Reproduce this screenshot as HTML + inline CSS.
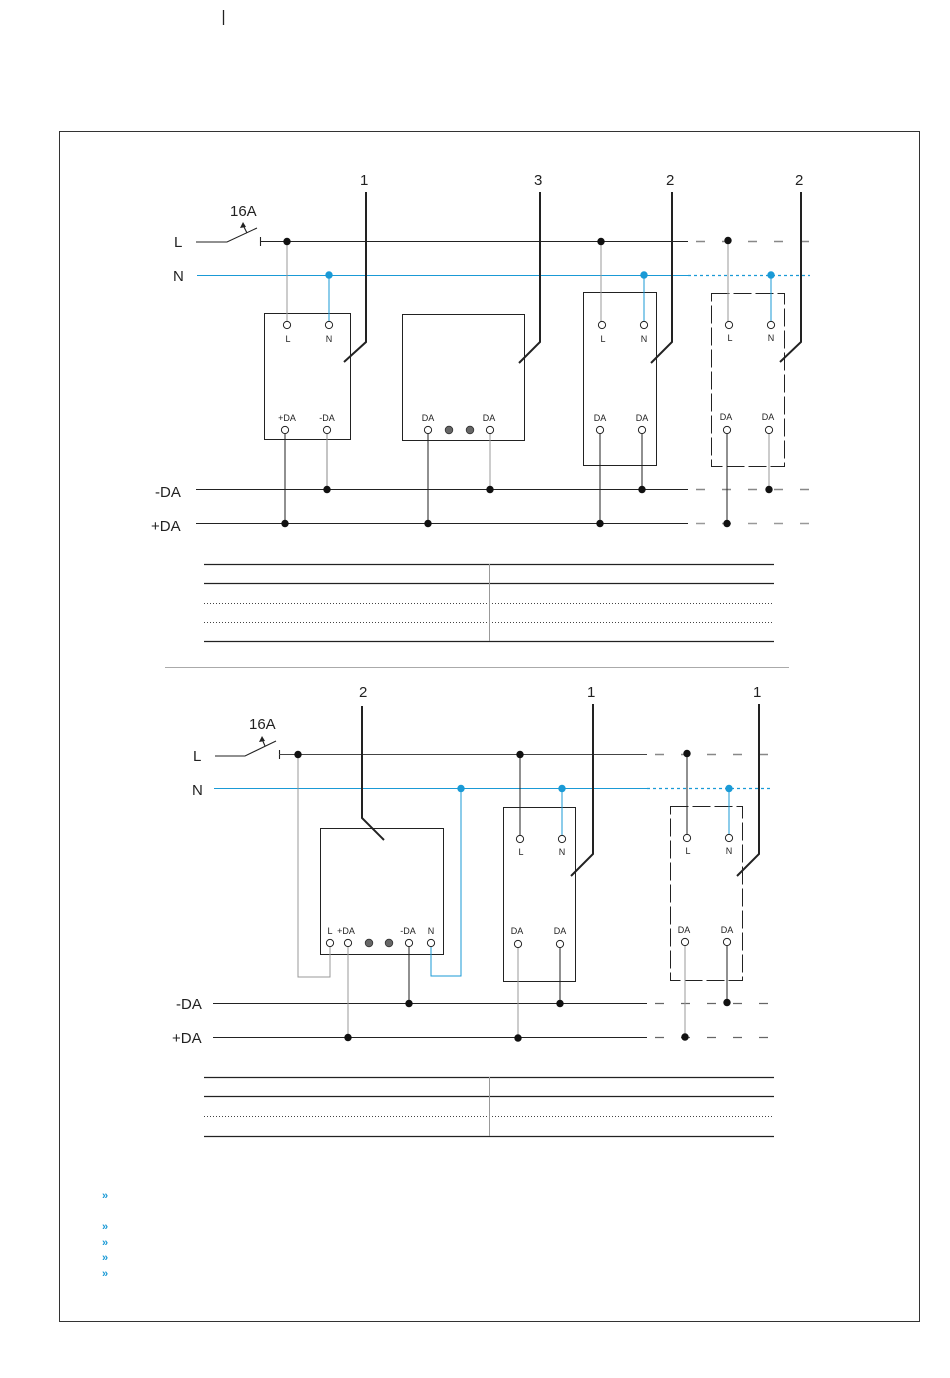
<!DOCTYPE html>
<html><head><meta charset="utf-8"><style>
html,body{margin:0;padding:0;background:#fff;}
svg{display:block;}
text{font-family:"Liberation Sans",sans-serif;fill:#222;}
</style></head><body>
<svg width="950" height="1378" viewBox="0 0 950 1378" xmlns="http://www.w3.org/2000/svg">
<line x1="223.5" y1="10" x2="223.5" y2="25" stroke="#222" stroke-width="1.3"/>
<rect x="59.5" y="131.5" width="860" height="1190" fill="none" stroke="#333" stroke-width="1"/>

<!-- ===== TOP DIAGRAM ===== -->
<g font-size="15">
<text x="174" y="247">L</text>
<text x="173" y="281">N</text>
<text x="155" y="497">-DA</text>
<text x="151" y="531">+DA</text>
<text x="230" y="216">16A</text>
<text x="360" y="185">1</text>
<text x="534" y="185">3</text>
<text x="666" y="185">2</text>
<text x="795" y="185">2</text>
</g>
<g stroke="#222" stroke-width="1.1" fill="none">
<polyline points="196,242 227,242 257,228"/>
<line x1="247" y1="233" x2="243" y2="225"/>
<line x1="260.5" y1="237" x2="260.5" y2="246"/>
<line x1="260" y1="241.5" x2="688" y2="241.5"/>
<line x1="696" y1="241.5" x2="810" y2="241.5" stroke="#888" stroke-width="1.4" stroke-dasharray="9 17"/>
<line x1="196" y1="489.5" x2="688" y2="489.5"/>
<line x1="696" y1="489.5" x2="810" y2="489.5" stroke="#888" stroke-width="1.4" stroke-dasharray="9 17"/>
<line x1="196" y1="523.5" x2="688" y2="523.5"/>
<line x1="696" y1="523.5" x2="810" y2="523.5" stroke="#999" stroke-width="1.4" stroke-dasharray="9 17"/>
</g>
<polygon points="243,222 240,228 246,227" fill="#222"/>
<line x1="197" y1="275.5" x2="688" y2="275.5" stroke="#1a9ad6" stroke-width="1.1"/>
<line x1="688" y1="275.5" x2="810" y2="275.5" stroke="#1a9ad6" stroke-width="1.2" stroke-dasharray="3 3"/>

<g fill="none" stroke="#222" stroke-width="1">
<rect x="264.5" y="313.5" width="86" height="126"/>
<rect x="402.5" y="314.5" width="122" height="126"/>
<rect x="583.5" y="292.5" width="73" height="173"/>
<rect x="711.5" y="293.5" width="73" height="173" stroke-dasharray="18 4"/>
</g>
<g fill="none" stroke="#222" stroke-width="2">
<polyline points="366,192 366,342 344,362"/>
<polyline points="540,192 540,342 519,363"/>
<polyline points="672,192 672,342 651,363"/>
<polyline points="801,192 801,342 780,362"/>
</g>
<g fill="none" stroke-width="1">
<line x1="287" y1="241" x2="287" y2="325" stroke="#999"/>
<line x1="329" y1="275" x2="329" y2="325" stroke="#1a9ad6"/>
<line x1="285" y1="430" x2="285" y2="523" stroke="#222"/>
<line x1="327" y1="430" x2="327" y2="489" stroke="#888"/>
<line x1="428" y1="430" x2="428" y2="523" stroke="#222"/>
<line x1="490" y1="430" x2="490" y2="489" stroke="#999"/>
<line x1="601" y1="241" x2="601" y2="325" stroke="#999"/>
<line x1="644" y1="275" x2="644" y2="325" stroke="#1a9ad6"/>
<line x1="600" y1="430" x2="600" y2="523" stroke="#222"/>
<line x1="642" y1="430" x2="642" y2="489" stroke="#222"/>
<line x1="728" y1="241" x2="728" y2="325" stroke="#999"/>
<line x1="771" y1="275" x2="771" y2="325" stroke="#1a9ad6"/>
<line x1="727" y1="430" x2="727" y2="523" stroke="#222"/>
<line x1="769" y1="430" x2="769" y2="489" stroke="#999"/>
</g>
<g fill="#111">
<circle cx="287" cy="241.5" r="3.7"/><circle cx="601" cy="241.5" r="3.7"/><circle cx="728" cy="240.5" r="3.7"/>
<circle cx="327" cy="489.5" r="3.7"/><circle cx="490" cy="489.5" r="3.7"/><circle cx="642" cy="489.5" r="3.7"/><circle cx="769" cy="489.5" r="3.7"/>
<circle cx="285" cy="523.5" r="3.7"/><circle cx="428" cy="523.5" r="3.7"/><circle cx="600" cy="523.5" r="3.7"/><circle cx="727" cy="523.5" r="3.7"/>
</g>
<g fill="#1a9ad6">
<circle cx="329" cy="275" r="3.7"/><circle cx="644" cy="275" r="3.7"/><circle cx="771" cy="275" r="3.7"/>
</g>
<g fill="#fff" stroke="#222" stroke-width="1">
<circle cx="287" cy="325" r="3.6"/><circle cx="329" cy="325" r="3.6"/>
<circle cx="285" cy="430" r="3.6"/><circle cx="327" cy="430" r="3.6"/>
<circle cx="428" cy="430" r="3.6"/><circle cx="490" cy="430" r="3.6"/>
<circle cx="602" cy="325" r="3.6"/><circle cx="644" cy="325" r="3.6"/>
<circle cx="600" cy="430" r="3.6"/><circle cx="642" cy="430" r="3.6"/>
<circle cx="729" cy="325" r="3.6"/><circle cx="771" cy="325" r="3.6"/>
<circle cx="727" cy="430" r="3.6"/><circle cx="769" cy="430" r="3.6"/>
</g>
<g fill="#666" stroke="#333" stroke-width="0.8"><circle cx="449" cy="430" r="3.8"/><circle cx="470" cy="430" r="3.8"/></g>
<g font-size="9" text-anchor="middle">
<text x="288" y="342">L</text><text x="329" y="342">N</text>
<text x="287" y="421">+DA</text><text x="327" y="421">-DA</text>
<text x="428" y="421">DA</text><text x="489" y="421">DA</text>
<text x="603" y="342">L</text><text x="644" y="342">N</text>
<text x="600" y="421">DA</text><text x="642" y="421">DA</text>
<text x="730" y="341">L</text><text x="771" y="341">N</text>
<text x="726" y="420">DA</text><text x="768" y="420">DA</text>
</g>

<g stroke="#222" stroke-width="1.2">
<line x1="204" y1="564.5" x2="774" y2="564.5"/>
<line x1="204" y1="583.5" x2="774" y2="583.5"/>
<line x1="204" y1="641.5" x2="774" y2="641.5"/>
</g>
<g stroke="#444" stroke-width="1" stroke-dasharray="1 2">
<line x1="204" y1="603.5" x2="774" y2="603.5"/>
<line x1="204" y1="622.5" x2="774" y2="622.5"/>
</g>
<line x1="489.5" y1="564" x2="489.5" y2="641" stroke="#999" stroke-width="1"/>
<line x1="165" y1="667.5" x2="789" y2="667.5" stroke="#aaa" stroke-width="1"/>

<!-- ===== BOTTOM DIAGRAM ===== -->
<g font-size="15">
<text x="193" y="761">L</text>
<text x="192" y="795">N</text>
<text x="176" y="1009">-DA</text>
<text x="172" y="1043">+DA</text>
<text x="249" y="729">16A</text>
<text x="359" y="697">2</text>
<text x="587" y="697">1</text>
<text x="753" y="697">1</text>
</g>
<g stroke="#222" stroke-width="1.1" fill="none">
<polyline points="215,756 245,756 276,741"/>
<line x1="265" y1="746" x2="262" y2="739"/>
<line x1="279.5" y1="750" x2="279.5" y2="759"/>
<line x1="279" y1="754.5" x2="647" y2="754.5" stroke="#444"/>
<line x1="655" y1="754.5" x2="770" y2="754.5" stroke="#888" stroke-width="1.4" stroke-dasharray="9 17"/>
<line x1="213" y1="1003.5" x2="647" y2="1003.5"/>
<line x1="655" y1="1003.5" x2="770" y2="1003.5" stroke="#666" stroke-width="1.3" stroke-dasharray="9 17"/>
<line x1="213" y1="1037.5" x2="647" y2="1037.5"/>
<line x1="655" y1="1037.5" x2="770" y2="1037.5" stroke="#666" stroke-width="1.3" stroke-dasharray="9 17"/>
</g>
<polygon points="262,736 259,742 265,741" fill="#222"/>
<line x1="214" y1="788.5" x2="647" y2="788.5" stroke="#1a9ad6" stroke-width="1.1"/>
<line x1="647" y1="788.5" x2="770" y2="788.5" stroke="#1a9ad6" stroke-width="1.2" stroke-dasharray="3 3"/>

<g fill="none" stroke="#222" stroke-width="1">
<rect x="320.5" y="828.5" width="123" height="126"/>
<rect x="503.5" y="807.5" width="72" height="174"/>
<rect x="670.5" y="806.5" width="72" height="174" stroke-dasharray="18 4"/>
</g>
<g fill="none" stroke="#222" stroke-width="2">
<polyline points="362,706 362,818 384,840"/>
<polyline points="593,704 593,854 571,876"/>
<polyline points="759,704 759,854 737,876"/>
</g>
<g fill="none" stroke-width="1">
<polyline points="298,754 298,977 330,977 330,943" stroke="#999"/>
<polyline points="431,943 431,976 461,976 461,788" stroke="#1a9ad6"/>
<line x1="348" y1="943" x2="348" y2="1037" stroke="#999"/>
<line x1="409" y1="943" x2="409" y2="1003" stroke="#222"/>
<line x1="520" y1="754" x2="520" y2="839" stroke="#222"/>
<line x1="562" y1="788" x2="562" y2="839" stroke="#1a9ad6"/>
<line x1="518" y1="943" x2="518" y2="1037" stroke="#999"/>
<line x1="560" y1="943" x2="560" y2="1003" stroke="#222"/>
<line x1="687" y1="754" x2="687" y2="838" stroke="#222"/>
<line x1="729" y1="788" x2="729" y2="838" stroke="#1a9ad6"/>
<line x1="685" y1="942" x2="685" y2="1037" stroke="#999"/>
<line x1="727" y1="942" x2="727" y2="1003" stroke="#222"/>
</g>
<g fill="#111">
<circle cx="298" cy="754.5" r="3.7"/><circle cx="520" cy="754.5" r="3.7"/><circle cx="687" cy="753.5" r="3.7"/>
<circle cx="409" cy="1003.5" r="3.7"/><circle cx="560" cy="1003.5" r="3.7"/><circle cx="727" cy="1002.5" r="3.7"/>
<circle cx="348" cy="1037.5" r="3.7"/><circle cx="518" cy="1038" r="3.7"/><circle cx="685" cy="1037" r="3.7"/>
</g>
<g fill="#1a9ad6">
<circle cx="461" cy="788.5" r="3.7"/><circle cx="562" cy="788.5" r="3.7"/><circle cx="729" cy="788.5" r="3.7"/>
</g>
<g fill="#fff" stroke="#222" stroke-width="1">
<circle cx="330" cy="943" r="3.6"/><circle cx="348" cy="943" r="3.6"/>
<circle cx="409" cy="943" r="3.6"/><circle cx="431" cy="943" r="3.6"/>
<circle cx="520" cy="839" r="3.6"/><circle cx="562" cy="839" r="3.6"/>
<circle cx="518" cy="944" r="3.6"/><circle cx="560" cy="944" r="3.6"/>
<circle cx="687" cy="838" r="3.6"/><circle cx="729" cy="838" r="3.6"/>
<circle cx="685" cy="942" r="3.6"/><circle cx="727" cy="942" r="3.6"/>
</g>
<g fill="#666" stroke="#333" stroke-width="0.8"><circle cx="369" cy="943" r="3.8"/><circle cx="389" cy="943" r="3.8"/></g>
<g font-size="9" text-anchor="middle">
<text x="330" y="934">L</text><text x="346" y="934">+DA</text>
<text x="408" y="934">-DA</text><text x="431" y="934">N</text>
<text x="521" y="855">L</text><text x="562" y="855">N</text>
<text x="517" y="934">DA</text><text x="560" y="934">DA</text>
<text x="688" y="854">L</text><text x="729" y="854">N</text>
<text x="684" y="933">DA</text><text x="727" y="933">DA</text>
</g>

<g stroke="#222" stroke-width="1.2">
<line x1="204" y1="1077.5" x2="774" y2="1077.5"/>
<line x1="204" y1="1096.5" x2="774" y2="1096.5"/>
<line x1="204" y1="1136.5" x2="774" y2="1136.5"/>
</g>
<line x1="204" y1="1116.5" x2="774" y2="1116.5" stroke="#444" stroke-width="1" stroke-dasharray="1 2"/>
<line x1="489.5" y1="1077" x2="489.5" y2="1136" stroke="#999" stroke-width="1"/>

<g font-size="11" font-weight="bold">
<text x="102" y="1199" style="fill:#1a9ad6">»</text>
<text x="102" y="1230" style="fill:#1a9ad6">»</text>
<text x="102" y="1246" style="fill:#1a9ad6">»</text>
<text x="102" y="1261" style="fill:#1a9ad6">»</text>
<text x="102" y="1277" style="fill:#1a9ad6">»</text>
</g>
</svg>
</body></html>
